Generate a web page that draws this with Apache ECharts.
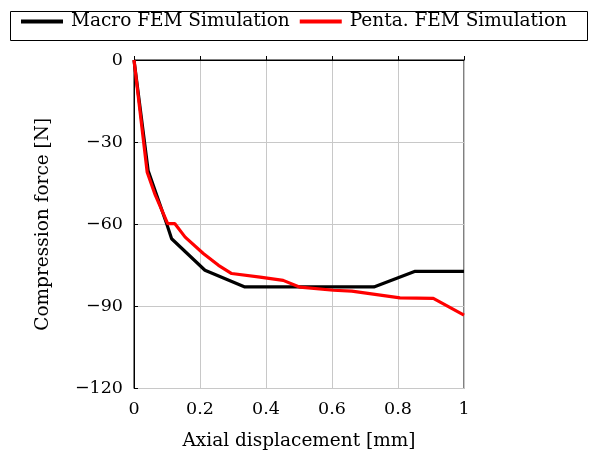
<!DOCTYPE html>
<html>
<head>
<meta charset="utf-8">
<script src="https://cdn.jsdelivr.net/npm/echarts@6/dist/echarts.min.js"></script>
<style>html,body{margin:0;padding:0;background:#fff}#c{width:601px;height:459px}</style>
</head>
<body>
<div id="c"></div>
<script>
var macroX = [0, 0.043, 0.099, 0.114, 0.215, 0.336, 0.5, 0.727, 0.852, 1.0];
var macroY = [0, -40.5, -59.8, -65.3, -76.8, -82.9, -82.9, -82.9, -77.2, -77.2];
var pentaX = [0, 0.04, 0.064, 0.102, 0.124, 0.155, 0.21, 0.256, 0.296, 0.382, 0.452, 0.503, 0.604, 0.66, 0.806, 0.907, 1.0];
var pentaY = [0, -41, -49.2, -59.8, -59.8, -64.7, -70.7, -75, -78, -79.3, -80.5, -83, -84.1, -84.4, -86.9, -87.1, -93.2];
var xTicks = [0, 0.2, 0.4, 0.6, 0.8, 1];
var yTicks = [-120, -90, -60, -30, 0];
var seriesNames = ['Macro FEM Simulation', 'Penta. FEM Simulation'];

function pairs(xs, ys) { return xs.map(function (x, i) { return [x, ys[i]]; }); }
var FONT = 'DejaVu Serif';
var FS = 18.5;
var TFS = 17.5;
var chart = echarts.init(document.getElementById('c'), null, {renderer: 'canvas'});
chart.setOption({
  animation: false,
  textStyle: {fontFamily: FONT, color: '#000'},
  grid: {left: 134, right: 137, top: 60, bottom: 70.5, show: true, borderColor: '#000', borderWidth: 1, backgroundColor: 'transparent'},
  graphic: [{type: 'rect', shape: {x: 10.5, y: 11.5, width: 577, height: 29}, style: {fill: 'none', stroke: '#000', lineWidth: 1}, z: 0}],
  legend: {
    left: 21, top: 12, itemGap: 10, itemWidth: 42, itemHeight: 4, padding: 0,
    icon: 'rect',
    textStyle: {fontFamily: FONT, fontSize: FS, color: '#000', padding: [0, 0, 0, 3]},
    data: seriesNames
  },
  xAxis: {
    type: 'value', min: 0, max: 1, interval: 0.2,
    name: 'Axial displacement [mm]', nameLocation: 'middle', nameGap: 43,
    nameTextStyle: {fontFamily: FONT, fontSize: FS, color: '#000'},
    axisLine: {show: true, lineStyle: {color: '#000'}},
    axisTick: {show: true, inside: true, length: 4, lineStyle: {color: '#000'}},
    axisLabel: {fontFamily: FONT, fontSize: TFS, color: '#000', margin: 12,
      formatter: function (v) { var t = xTicks.find(function (k) { return Math.abs(k - v) < 1e-9; }); return t === undefined ? '' : String(t); }},
    splitLine: {show: true, lineStyle: {color: '#c8c8c8', width: 1}}
  },
  yAxis: {
    type: 'value', min: -120, max: 0, interval: 30,
    name: 'Compression force [N]', nameLocation: 'middle', nameGap: 81, nameRotate: 90,
    nameTextStyle: {fontFamily: FONT, fontSize: FS, color: '#000'},
    axisLine: {show: true, lineStyle: {color: '#000'}},
    axisTick: {show: true, inside: true, length: 4, lineStyle: {color: '#000'}},
    axisLabel: {fontFamily: FONT, fontSize: TFS, color: '#000', margin: 11,
      formatter: function (v) { return v < 0 ? '\u2212' + Math.abs(v) : String(v); }},
    splitLine: {show: true, lineStyle: {color: '#c8c8c8', width: 1}}
  },
  series: [
    {name: seriesNames[0], type: 'line', data: pairs(macroX, macroY), showSymbol: false, symbol: 'none',
      lineStyle: {color: '#000', width: 3.2}, itemStyle: {color: '#000'}, z: 2},
    {name: seriesNames[1], type: 'line', data: pairs(pentaX, pentaY), showSymbol: false, symbol: 'none',
      lineStyle: {color: '#ff0000', width: 3.2}, itemStyle: {color: '#ff0000'}, z: 3}
  ]
});
</script>
</body>
</html>
